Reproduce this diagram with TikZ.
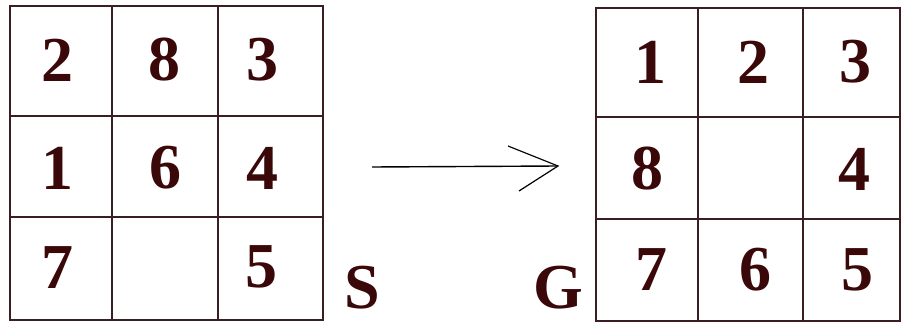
\documentclass[tikz,border=0pt]{standalone}
\usepackage{fontspec}
\setmainfont{Liberation Serif}
\definecolor{ink}{HTML}{3A0808}
\definecolor{gridc}{HTML}{3A1E22}
\begin{document}
\begin{tikzpicture}[x=1pt,y=1pt,
  gridline/.style={draw=gridc,line width=1.8pt},
  digit/.style={text=ink,font=\fontsize{64}{64}\selectfont\bfseries,inner sep=0pt,anchor=center},
  tag/.style={text=ink,font=\fontsize{64}{64}\selectfont\bfseries,inner sep=0pt,anchor=base},
  arrowline/.style={draw=black,line width=1.4pt}]
\useasboundingbox (0,0) rectangle (903,322);
\fill[white] (0,0) rectangle (903,322);
% left grid (S)
\draw[gridline] (10,316) rectangle (323,2);
\draw[gridline] (112,316) -- (112,2);
\draw[gridline] (218,316) -- (218,2);
\draw[gridline] (10,206) -- (323,206);
\draw[gridline] (10,105) -- (323,105);
% right grid (G)
\draw[gridline] (596,314) rectangle (900,1);
\draw[gridline] (698,314) -- (698,1);
\draw[gridline] (803,314) -- (803,1);
\draw[gridline] (596,205) -- (900,205);
\draw[gridline] (596,103) -- (900,103);
% start state digits
\node[digit] (s2) at (57,262) {2};
\node[digit] (s8) at (164,262) {8};
\node[digit] (s3) at (262,262) {3};
\node[digit] (s1) at (57,154) {1};
\node[digit] (s6) at (165,154) {6};
\node[digit] (s4) at (262,154) {4};
\node[digit] (s7) at (57,54) {7};
\node[digit] (s5) at (261,55) {5};
% goal state digits
\node[digit] (g1) at (650,260) {1};
\node[digit] (g2) at (753,260) {2};
\node[digit] (g3) at (855,260) {3};
\node[digit] (g8) at (647,153) {8};
\node[digit] (g4) at (854,153) {4};
\node[digit] (g7) at (651,52) {7};
\node[digit] (g6) at (755,52) {6};
\node[digit] (g5) at (857,52) {5};
% labels
\node[tag] (S) at (362,14) {S};
\node[tag] (G) at (558,14) {G};
% arrow
\coordinate (a1) at (372,155);
\coordinate (a2) at (558,156);
\coordinate (b1) at (508,176);
\coordinate (b2) at (519,131);
\draw[arrowline] (a1) -- (a2);
\draw[arrowline,line width=1.2pt] (b1) -- (a2) -- (b2);
\end{tikzpicture}
\end{document}
